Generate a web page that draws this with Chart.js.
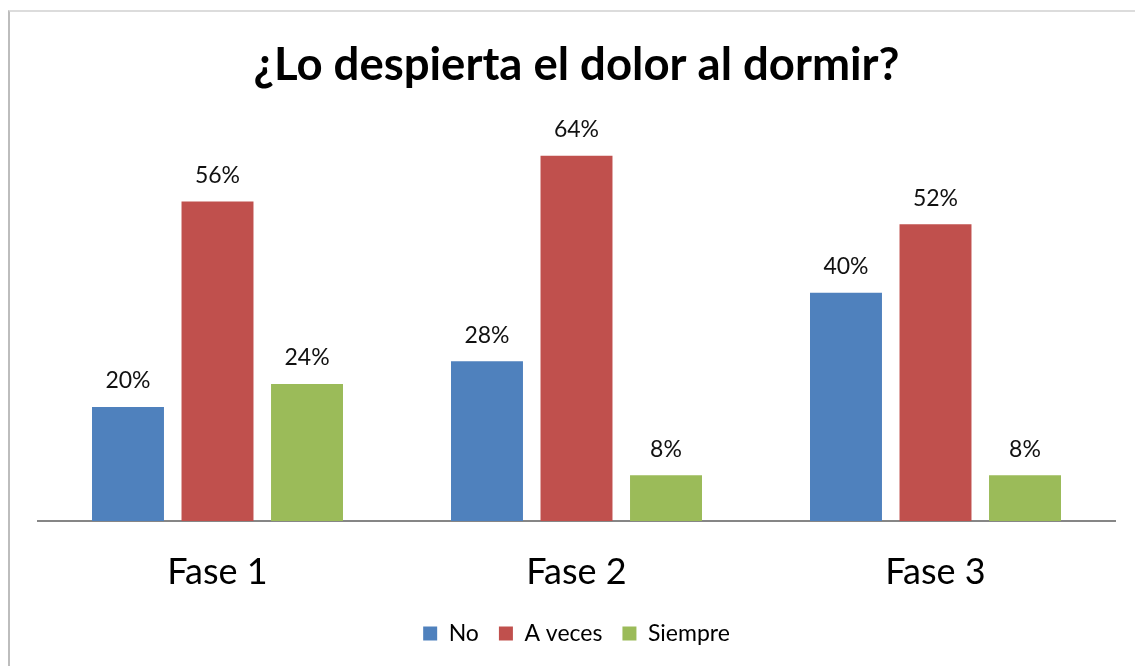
<!DOCTYPE html>
<html>
<head>
<meta charset="utf-8">
<script src="https://cdn.jsdelivr.net/npm/chart.js@4.4.0/dist/chart.umd.min.js"></script>
<style>
    html, body { margin: 0; padding: 0; background: #fff; }
    #frame {
        position: absolute; left: 8px; top: 10px; width: 1140px; height: 670px;
        border-left: 2px solid #bdbdbd; border-top: 2px solid #dcdcdc;
    }
    #wrap { position: absolute; left: 0; top: 0; width: 1135px; height: 666px; }
</style>
</head>
<body>
<div id="frame"></div>
<div id="wrap"><canvas id="chart"></canvas></div>
<script>
const categories = ['Fase 1', 'Fase 2', 'Fase 3'];
const seriesNames = ['No', 'A veces', 'Siempre'];
const noValues = [20, 28, 40];
const aVecesValues = [56, 64, 52];
const siempreValues = [24, 8, 8];
const seriesColors = ['#4F81BD', '#C0504D', '#9BBB59'];

const fontFamily = 'Lato, "Open Sans", sans-serif';

// draws the "20%" style labels above each bar
const barLabels = {
    id: 'barLabels',
    afterDatasetsDraw(chart) {
        const ctx = chart.ctx;
        ctx.save();
        ctx.font = '23px ' + fontFamily;
        ctx.fillStyle = '#111';
        ctx.textAlign = 'center';
        ctx.textBaseline = 'middle';
        chart.data.datasets.forEach((ds, i) => {
            chart.getDatasetMeta(i).data.forEach((bar, j) => {
                ctx.fillText(ds.data[j] + '%', bar.x, bar.y - 26);
            });
        });
        ctx.restore();
    }
};

const datasets = [noValues, aVecesValues, siempreValues].map((vals, i) => ({
    label: seriesNames[i],
    data: vals,
    backgroundColor: seriesColors[i],
    borderWidth: 0,
    barPercentage: 0.804,
    categoryPercentage: 0.748
}));

new Chart(document.getElementById('chart').getContext('2d'), {
    type: 'bar',
    data: { labels: categories, datasets: datasets },
    options: {
        responsive: true,
        maintainAspectRatio: false,
        animation: false,
        layout: { padding: { left: 38, right: 20, top: 0, bottom: 11 } },
        scales: {
            y: { display: false, min: 0, max: 70 },
            x: {
                grid: { display: false, drawTicks: false },
                border: { display: true, color: '#868686', width: 2 },
                ticks: {
                    color: '#000',
                    padding: 33,
                    font: { family: fontFamily, size: 36, lineHeight: 1 }
                },
                // keep the gap between the axis line and the legend fixed
                afterFit: (scale) => { scale.height = 81; }
            }
        },
        plugins: {
            title: {
                display: true,
                text: '¿Lo despierta el dolor al dormir?',
                color: '#000',
                font: { family: fontFamily, size: 45.5, weight: 'bold' },
                padding: { top: 38, bottom: 29 }
            },
            legend: {
                position: 'bottom',
                labels: {
                    color: '#000',
                    boxWidth: 14,
                    boxHeight: 14,
                    padding: 20,
                    font: { family: fontFamily, size: 23 }
                }
            },
            tooltip: { enabled: false }
        }
    },
    plugins: [barLabels]
});
</script>
</body>
</html>
